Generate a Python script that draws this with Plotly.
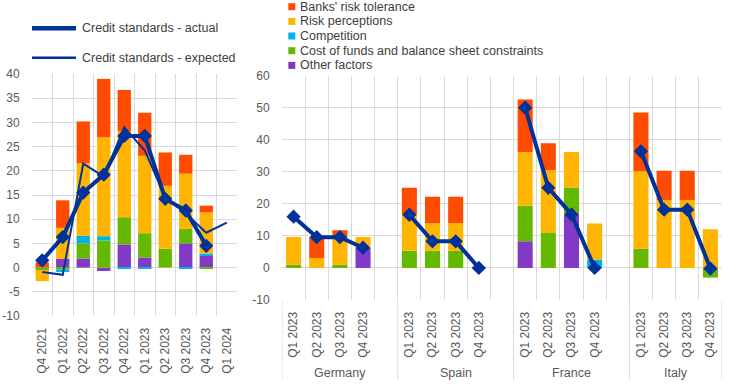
import plotly.graph_objects as go

# ---------------- data ----------------
left_quarters = ["Q4 2021", "Q1 2022", "Q2 2022", "Q3 2022", "Q4 2022",
                 "Q1 2023", "Q2 2023", "Q3 2023", "Q4 2023", "Q1 2024"]

# factor series, listed in stacking order (bottom -> top)
factor_names = ["Other factors", "Cost of funds and balance sheet constraints",
                "Competition", "Risk perceptions", "Banks' risk tolerance"]
factor_colors = ["#8139C6", "#65B800", "#00B1EA", "#FFB400", "#FF4B00"]

left_other = [0.0, 1.8, 1.9, -0.7, 4.8, 2.1, 0.0, 5.0, 2.5, None]
left_cost = [-0.5, -0.4, 3.1, 5.6, 5.6, 5.0, 3.9, 3.0, -0.3, None]
left_comp = [0.0, -0.5, 1.6, 0.9, -0.1, -0.2, 0.0, -0.2, 0.4, None]
left_risk = [-2.3, 6.4, 15.0, 20.4, 17.8, 16.0, 13.0, 11.4, 8.5, None]
left_tol = [1.1, 5.7, 8.6, 12.1, 8.5, 8.9, 6.9, 3.9, 1.4, None]
left_actual = [1.5, 6.3, 15.5, 19.2, 27.2, 27.2, 14.2, 11.8, 4.5, None]
left_expected = [-0.9, -1.5, 21.5, 18.8, 29.0, 24.2, 14.5, 11.2, 7.2, 9.3]

countries = ["Germany", "Spain", "France", "Italy"]
country_quarters = ["Q1 2023", "Q2 2023", "Q3 2023", "Q4 2023"]
cty_other = [[0, 0, 0, 6.3], [0, 0, 0, 0], [8.3, 0, 16.7, 0], [0, 0, 0, 0]]
cty_cost = [[1.0, 0, 1.0, 0], [5.4, 5.4, 5.4, 0], [11.1, 10.9, 8.4, 0], [6.0, 0, 0, -3.0]]
cty_comp = [[0, 0, 0, 0], [0, 0, 0, 0], [0, 0, 0, 2.6], [0, 0, 0, 0]]
cty_risk = [[8.7, 3.1, 8.4, 3.4], [11.2, 8.6, 8.6, 0], [16.7, 19.7, 11.1, 11.3], [24.2, 21.2, 21.2, 12.1]]
cty_tol = [[0, 6.6, 2.4, 0], [8.4, 8.2, 8.2, 0], [16.5, 8.3, 0, 0], [18.3, 9.1, 9.1, 0]]
cty_actual = [[16.0, 9.6, 9.6, 6.3], [16.6, 8.3, 8.3, 0.0], [50.0, 25.0, 16.7, 0.0], [36.4, 18.2, 18.2, -0.2]]

line_names = ["Credit standards - actual", "Credit standards - expected"]
left_yticks = [-10, -5, 0, 5, 10, 15, 20, 25, 30, 35, 40]
right_yticks = [-10, 0, 10, 20, 30, 40, 50, 60]

# ---------------- style ----------------
W, H = 744, 384
NAVY = "#003299"
GRID = "#d9d9d9"
TICK_COL = "#595959"
TEXT_COL = "#404040"
FONT = "Liberation Sans, Arial, sans-serif"


def px(x):
    return x / W


def py(y):
    return 1 - y / H


fig = go.Figure()

# ---------- left chart ----------
left_x = list(range(len(left_quarters)))
left_series = [left_other, left_cost, left_comp, left_risk, left_tol]
for name, col, vals in zip(factor_names, factor_colors, left_series):
    fig.add_trace(go.Bar(x=left_x, y=vals, name=name, marker_color=col,
                         marker_line_width=0, showlegend=False,
                         xaxis="x", yaxis="y"))
fig.add_trace(go.Scatter(x=left_x, y=left_expected, name=line_names[1], mode="lines",
                         line=dict(color=NAVY, width=2), showlegend=False,
                         xaxis="x", yaxis="y"))
fig.add_trace(go.Scatter(x=left_x, y=left_actual, name=line_names[0], mode="lines+markers",
                         line=dict(color=NAVY, width=4),
                         marker=dict(symbol="diamond", size=11, color=NAVY),
                         showlegend=False, xaxis="x", yaxis="y"))

# ---------- right chart ----------
SLOTS = len(country_quarters) + 1          # four quarters plus one empty slot
right_x = []
for g in range(len(countries)):
    for q in range(len(country_quarters)):
        right_x.append(g * SLOTS + q)


def flat(m):
    return [v for row in m for v in row]


right_series = [cty_other, cty_cost, cty_comp, cty_risk, cty_tol]
for name, col, vals in zip(factor_names, factor_colors, right_series):
    fig.add_trace(go.Bar(x=right_x, y=flat(vals), name=name, marker_color=col,
                         marker_line_width=0, showlegend=False,
                         xaxis="x2", yaxis="y2"))

line_x, line_y = [], []
for g in range(len(countries)):
    for q in range(len(country_quarters)):
        line_x.append(g * SLOTS + q)
        line_y.append(cty_actual[g][q])
    line_x.append(None)
    line_y.append(None)
fig.add_trace(go.Scatter(x=line_x, y=line_y, name=line_names[0], mode="lines+markers",
                         line=dict(color=NAVY, width=4),
                         marker=dict(symbol="diamond", size=11, color=NAVY),
                         showlegend=False, connectgaps=False,
                         xaxis="x2", yaxis="y2"))

x_last = max(right_x)

axis_font = dict(family=FONT, size=12, color=TICK_COL)

fig.update_layout(
    template="none",
    width=W, height=H, autosize=False,
    margin=dict(l=0, r=0, t=0, b=0, pad=0),
    paper_bgcolor="white", plot_bgcolor="white",
    barmode="relative", bargap=0.35,
    font=dict(family=FONT, size=12, color=TEXT_COL),
    showlegend=False,
    xaxis=dict(domain=[px(32), px(237)], range=[-0.5, len(left_quarters) - 0.5],
               automargin=False,
               tickvals=left_x, ticktext=left_quarters, tickangle=-90,
               showgrid=False, zeroline=False, showline=False,
               ticks="outside", ticklen=6, tickcolor="rgba(0,0,0,0)",
               tickfont=axis_font,
               minor=dict(tickvals=[i - 0.5 for i in range(len(left_quarters) + 1)],
                          showgrid=True, gridcolor=GRID, gridwidth=1, ticks="")),
    yaxis=dict(domain=[py(316), py(74)], range=[-10, 40], automargin=False,
               tickvals=left_yticks, ticktext=[str(v) for v in left_yticks],
               showgrid=True, gridcolor=GRID, gridwidth=1, zeroline=False,
               ticks="outside", ticklen=9, tickcolor="rgba(0,0,0,0)",
               tickfont=axis_font),
    xaxis2=dict(domain=[px(282), px(722)], range=[-0.5, x_last + 0.5],
                automargin=False, anchor="y2",
                tickvals=right_x, ticktext=country_quarters * len(countries),
                tickangle=-90, showgrid=False, zeroline=False, showline=False,
                ticks="outside", ticklen=6, tickcolor="rgba(0,0,0,0)",
                tickfont=axis_font,
                minor=dict(tickvals=[i - 0.5 for i in range(x_last + 2)],
                           showgrid=True, gridcolor=GRID, gridwidth=1, ticks="")),
    yaxis2=dict(domain=[py(300), py(75.7)], range=[-10, 60], anchor="x2",
                automargin=False,
                tickvals=right_yticks, ticktext=[str(v) for v in right_yticks],
                showgrid=True, gridcolor=GRID, gridwidth=1, zeroline=False,
                ticks="outside", ticklen=9, tickcolor="rgba(0,0,0,0)",
                tickfont=axis_font),
)

shapes = []
annotations = []

# group separators and labels under the right chart
bounds = [g * SLOTS - 0.5 for g in range(len(countries))] + [x_last + 0.5]
for b in bounds:
    shapes.append(dict(type="line", xref="x2", yref="paper", x0=b, x1=b,
                       y0=py(380), y1=py(300), line=dict(color=GRID, width=1)))
for g, c in enumerate(countries):
    left_b = bounds[g]
    right_b = bounds[g + 1]
    annotations.append(dict(text=c, xref="x2", yref="paper", x=(left_b + right_b) / 2,
                            y=py(373), xanchor="center", yanchor="middle",
                            showarrow=False, font=dict(family=FONT, size=12.5, color=TICK_COL)))

# legend for the lines (top left)
legend_font = dict(family=FONT, size=12.5, color=TEXT_COL)
for i, (nm, w) in enumerate(zip(line_names, [4.5, 2.5])):
    yy = [28.3, 57.7][i]
    shapes.append(dict(type="line", xref="paper", yref="paper", x0=px(32), x1=px(76),
                       y0=py(yy), y1=py(yy), line=dict(color=NAVY, width=w)))
    annotations.append(dict(text=nm, xref="paper", yref="paper", x=px(79.5), y=py(yy),
                            xanchor="left", yanchor="middle", showarrow=False,
                            font=legend_font))

# legend for the factors (top right), listed top -> bottom
rows = [6.7, 21.4, 36.0, 50.7, 65.4]
for nm, col, yy in zip(factor_names[::-1], factor_colors[::-1], rows):
    shapes.append(dict(type="rect", xref="paper", yref="paper", x0=px(288.3), x1=px(295.3),
                       y0=py(yy + 3.5), y1=py(yy - 3.5), fillcolor=col, line=dict(width=0)))
    annotations.append(dict(text=nm, xref="paper", yref="paper", x=px(297.5), y=py(yy),
                            xanchor="left", yanchor="middle", showarrow=False,
                            font=legend_font))

fig.update_layout(shapes=shapes, annotations=annotations)

post = (
    "document.documentElement.style.margin='0';"
    "document.documentElement.style.overflow='hidden';"
    "document.body.style.margin='0';"
    "document.body.style.overflow='hidden';"
    "var gd=document.getElementById('{plot_id}');"
    "gd.style.position='fixed';gd.style.left='0px';gd.style.top='0px';"
)
fig.write_html("out.html", config={"displayModeBar": False}, post_script=post)
